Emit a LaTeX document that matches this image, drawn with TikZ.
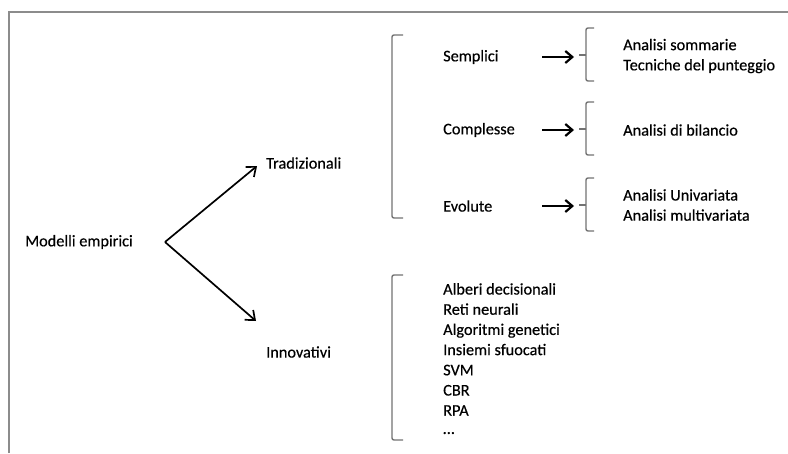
\documentclass[tikz,border=0pt]{standalone}
\usepackage{fontspec}
\setmainfont{Carlito}[FakeBold=0.4]
\usetikzlibrary{arrows.meta}
\begin{document}
\begin{tikzpicture}[x=1pt,y=-1pt,
  lbl/.style={anchor=west,inner sep=0pt,font=\fontsize{16.3}{20.2}\selectfont,text=black},
  lst/.style={lbl,align=left},
  frameline/.style={draw=black!45,line width=1.3pt},
  brk/.style={draw=black!55,line width=1.4pt,rounded corners=2pt},
  bigarrow/.style={draw=black,line width=1.7pt,-{Straight Barb[length=8pt,width=13pt,line width=1.7pt]}},
  smallarrow/.style={draw=black,line width=2.2pt,-{Straight Barb[length=7pt,width=12pt,line width=2.2pt]}}
]
\useasboundingbox (0,0) rectangle (788,453);
\fill[white] (0,0) rectangle (788,453);
% page frame (left and top edges)
\draw[frameline] (9,453) -- (9,12) -- (788,12);

% root and the two branches
\node[lbl] (root) at (25,242) {Modelli empirici};
\coordinate (apex) at (165,242);
\node[lbl] (trad) at (266,163) {Tradizionali};
\node[lbl] (inno) at (266,352) {Innovativi};
\coordinate (tipT) at (257,166);
\coordinate (tipI) at (256,321);
\draw[bigarrow] (apex) -- (tipT);
\draw[bigarrow] (apex) -- (tipI);

% bracket for the traditional models
\draw[brk] (403,35) -- (392,35) -- (392,218) -- (403,218);
\node[lbl] (semp) at (443,57) {Semplici};
\node[lbl] (comp) at (443,130) {Complesse};
\node[lbl] (evol) at (443,206) {Evolute};

% arrows towards the techniques
\foreach \n/\y in {s/57,c/130,e/206}{
  \coordinate (\n a) at (542,\y);
  \coordinate (\n b) at (574,\y);
  \draw[smallarrow] (\n a) -- (\n b);
}

% curly braces
\foreach \c in {55,129,205}{
  \draw[brk] (594,\c-27) -- (586,\c-27) -- (586,\c+26) -- (594,\c+26);
  \draw[draw=black!55,line width=1.4pt] (586,\c) -- (579,\c);
}

\node[lst] (sempList) at (623,56) {Analisi sommarie\\Tecniche del punteggio};
\node[lbl] (compList) at (623,130) {Analisi di bilancio};
\node[lst] (evolList) at (623,205) {Analisi Univariata\\Analisi multivariata};

% bracket for the innovative models
\draw[brk] (403,275) -- (392,275) -- (392,440) -- (403,440);
\node[lst,anchor=north west] (innoList) at (443,283) {Alberi decisionali\\Reti neurali\\Algoritmi genetici\\Insiemi sfuocati\\SVM\\CBR\\RPA\\\raisebox{2pt}{\dots}};
\end{tikzpicture}
\end{document}
